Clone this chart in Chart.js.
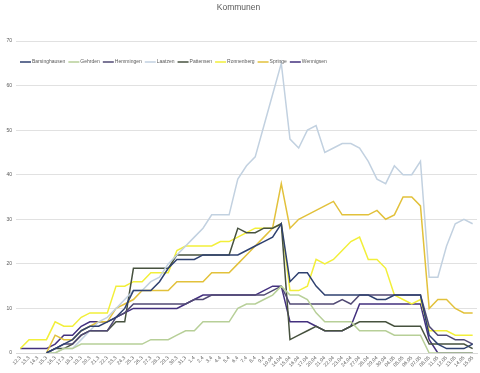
<!DOCTYPE html>
<html lang="de">
<head>
<meta charset="utf-8">
<title>Kommunen</title>
<script src="https://cdn.jsdelivr.net/npm/chart.js@4.4.0/dist/chart.umd.min.js"></script>
<style>
  html, body { margin: 0; padding: 0; background: #fff; }
  canvas { display: block; }
</style>
</head>
<body>
<canvas id="kommunen-chart" width="480" height="373"></canvas>
<script>
// Datum-Labels (x-Achse)
const datumLabels = [
    "12.3", "13.3", "14.3", "15.3", "16.3", "17.3", "18.3", "19.3", "20.3", "21.3",
    "22.3", "23.3", "24.3", "25.3", "26.3", "27.3", "28.3", "29.3", "30.3", "31.3",
    "1.4", "2.4", "3.4", "4.4", "5.4", "6.4", "7.4", "8.4", "9.4", "10.04",
    "14.04", "15.04", "16.04", "17.04", "20.04", "21.04", "22.04", "23.04", "24.04", "27.04",
    "28.04", "29.04", "30.04", "04.05", "05.05", "06.05", "07.05", "08.05", "11.05", "12.05",
    "13.05", "14.05", "15.05"
];

const barsinghausen = [null, null, null, 0, 1, 2, 3, 5, 6, 6, 7, 8, 10, 14, 14, 14, 16, 19, 21, 21, 21, 22, 22, 22, 22, 22, 23, 24, 25, 26, 29, 16, 18, 18, 15, 13, 13, 13, 13, 13, 13, 12, 12, 13, 13, 13, 13, 4, 2, 1, 1, 1, 2];
const gehrden = [null, null, null, 0, 0, 1, 1, 2, 2, 2, 2, 2, 2, 2, 2, 3, 3, 3, 4, 5, 5, 7, 7, 7, 7, 10, 11, 11, 12, 13, 15, 13, 13, 12, 9, 7, 7, 7, 7, 5, 5, 5, 5, 4, 4, 4, 4, 0, 0, 0, 0, 0, 0];
const hemmingen = [null, null, null, 0, 1, 2, 2, 4, 5, 5, 5, 8, 9, 11, 11, 11, 11, 11, 11, 11, 12, 12, 13, 13, 13, 13, 13, 13, 13, 14, 15, 11, 11, 11, 11, 11, 11, 12, 11, 13, 13, 13, 13, 13, 13, 13, 13, 6, 4, 4, 3, 3, 2];
const laatzen = [null, null, null, 0, 0, 1, 1, 3, 5, 7, 8, 10, 12, 14, 14, 16, 17, 20, 22, 24, 26, 28, 31, 31, 31, 39, 42, 44, 51, 58, 65, 48, 46, 50, 51, 45, 46, 47, 47, 46, 43, 39, 38, 42, 40, 40, 43, 17, 17, 24, 29, 30, 29];
const pattensen = [null, null, null, 0, 1, 1, 2, 4, 5, 5, 5, 7, 7, 19, 19, 19, 19, 19, 22, 22, 22, 22, 22, 22, 22, 28, 27, 27, 28, 28, 29, 3, 4, 5, 6, 5, 5, 5, 6, 7, 7, 7, 7, 6, 6, 6, 6, 2, 2, 2, 2, 2, 1];
const ronnenberg = [1, 3, 3, 3, 7, 6, 6, 8, 9, 9, 9, 15, 15, 16, 16, 18, 18, 18, 23, 24, 24, 24, 24, 25, 25, 26, 27, 28, 28, 28, 29, 14, 14, 15, 21, 20, 21, 23, 25, 26, 21, 21, 19, 13, 12, 11, 12, 5, 5, 5, 4, 4, 4];
const springe = [null, null, null, 0, 4, 3, 3, 5, 6, 7, 7, 10, 11, 12, 14, 14, 14, 14, 16, 16, 16, 16, 18, 18, 18, 20, 22, 24, 26, 28, 38, 28, 30, 31, 32, 33, 34, 31, 31, 31, 31, 32, 30, 31, 35, 35, 33, 10, 12, 12, 10, 9, 9];
const wennigsen = [1, 1, 1, 1, 2, 4, 4, 6, 7, 7, 7, 8, 9, 10, 10, 10, 10, 10, 10, 11, 12, 13, 13, 13, 13, 13, 13, 13, 14, 15, 15, 7, 7, 7, 6, 5, 5, 5, 6, 11, 11, 11, 11, 11, 11, 11, 11, 3, 0, 0, 0, 0, 0];

const kommunenNamen = ["Barsinghausen", "Gehrden", "Hemmingen", "Laatzen", "Pattensen", "Ronnenberg", "Springe", "Wennigsen"];
const kommunenWerte = [barsinghausen, gehrden, hemmingen, laatzen, pattensen, ronnenberg, springe, wennigsen];
const kommunenFarben = ["#2f4170", "#b7cf98", "#514a74", "#c2d1e0", "#47523f", "#f2ef3a", "#e2c13b", "#43307e"];

const yTicks = [0, 10, 20, 30, 40, 50, 60, 70];

const textFarbe = "#595959";
const gridFarbe = "#d9d9d9";
const fontFamilie = '"Liberation Sans", Arial, sans-serif';

// Legende liegt im Diagrammbereich (wie im Original), deshalb eigenes Plugin
const overlayLegende = {
    id: "overlayLegende",
    afterDatasetsDraw(chart) {
        const ctx = chart.ctx,
            area = chart.chartArea;
        let x = area.left + 4;
        const y = area.top + 21;
        ctx.save();
        ctx.font = "5px " + fontFamilie;
        ctx.textBaseline = "middle";
        chart.data.datasets.forEach((ds) => {
            ctx.strokeStyle = ds.borderColor;
            ctx.lineWidth = 1.5;
            ctx.beginPath();
            ctx.moveTo(x, y);
            ctx.lineTo(x + 11, y);
            ctx.stroke();
            x += 12;
            ctx.fillStyle = textFarbe;
            ctx.fillText(ds.label, x, y);
            x += ctx.measureText(ds.label).width + 3;
        });
        ctx.restore();
    },
};

const datasets = kommunenNamen.map((name, i) => ({
    label: name,
    data: kommunenWerte[i],
    borderColor: kommunenFarben[i],
    backgroundColor: kommunenFarben[i],
    borderWidth: 1.5,
    pointRadius: 0,
    pointHoverRadius: 0,
    tension: 0,
    fill: false,
}));

new Chart(document.getElementById("kommunen-chart"), {
    type: "line",
    data: { labels: datumLabels, datasets: datasets },
    options: {
        responsive: false,
        animation: false,
        devicePixelRatio: 1,
        layout: { padding: { left: 0, right: 3, top: 0, bottom: 0 } },
        plugins: {
            legend: { display: false },
            tooltip: { enabled: false },
            title: {
                display: true,
                text: "Kommunen",
                color: textFarbe,
                font: { family: fontFamilie, size: 8.5, weight: "normal" },
                padding: { top: 3, bottom: 27.8 },
            },
        },
        scales: {
            x: {
                offset: true,
                grid: { display: false, drawTicks: false },
                border: { display: true, color: gridFarbe, width: 1 },
                ticks: {
                    color: textFarbe,
                    font: { family: fontFamilie, size: 5 },
                    autoSkip: false,
                    maxRotation: 45,
                    minRotation: 45,
                    padding: 2,
                },
                afterFit: (s) => { s.height = 20; },
            },
            y: {
                min: 0,
                max: 70,
                afterBuildTicks: (s) => { s.ticks = yTicks.map((v) => ({ value: v })); },
                grid: { color: gridFarbe, lineWidth: 0.8, drawTicks: false },
                border: { display: false },
                ticks: {
                    color: textFarbe,
                    font: { family: fontFamilie, size: 5 },
                    padding: 4,
                },
                afterFit: (s) => { s.width = 16; },
            },
        },
    },
    plugins: [overlayLegende],
});
</script>
</body>
</html>
